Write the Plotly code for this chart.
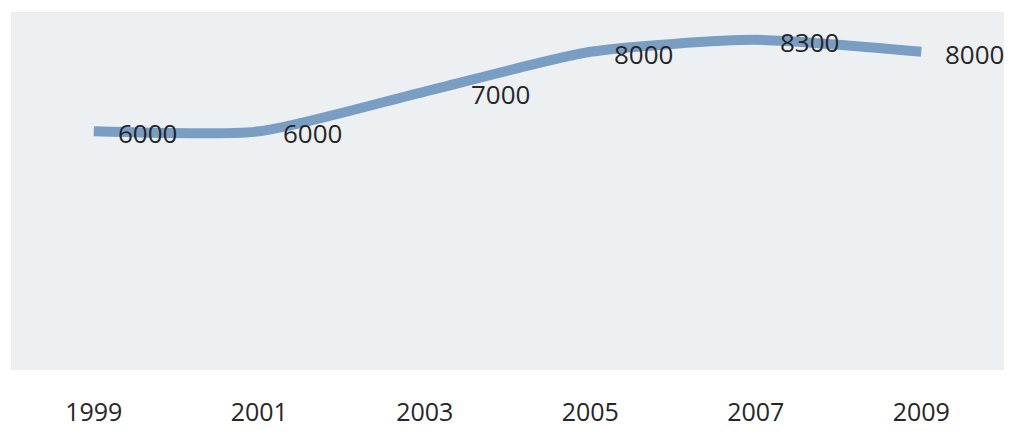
import plotly.graph_objects as go

years = ["1999", "2001", "2003", "2005", "2007", "2009"]
values = [6000, 6000, 7000, 8000, 8300, 8000]
labels = ["6000", "6000", "7000", "8000", "8300", "8000"]

fig = go.Figure()
fig.add_trace(go.Scatter(
    x=years, y=values, mode="lines",
    line=dict(color="#7a9ec3", width=10, shape="spline", smoothing=0.6),
    hoverinfo="skip", showlegend=False,
))

extra_shift = {"2003": 22}
for i, (yr, v, t) in enumerate(zip(years, values, labels)):
    fig.add_annotation(
        x=i, y=v, text=t, showarrow=False,
        xref="x", yref="y",
        xanchor="left", yanchor="middle",
        xshift=22 + extra_shift.get(yr, 0),
        yshift=-2,
        font=dict(family="Open Sans", size=26, color="#262626"),
    )

fig.update_layout(
    width=1009, height=431,
    margin=dict(l=11, r=5, t=12, b=61),
    paper_bgcolor="white",
    plot_bgcolor="#edf0f2",
    xaxis=dict(type="category", range=[-0.5, 5.5], showgrid=False, zeroline=False,
               showline=False, ticks="outside", ticklen=20, tickcolor="rgba(0,0,0,0)",
               automargin=False,
               tickfont=dict(family="Open Sans", size=25, color="#262626")),
    yaxis=dict(range=[0, 9000], showgrid=False, zeroline=False, showline=False,
               showticklabels=False, automargin=False),
)

fig.write_html(
    "out.html",
    config={"displayModeBar": False},
    post_script="document.body.style.margin='0';document.body.style.overflow='hidden';",
)
